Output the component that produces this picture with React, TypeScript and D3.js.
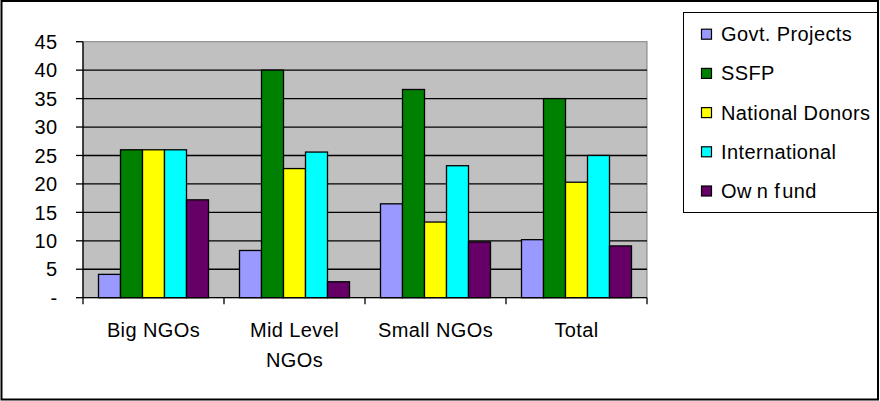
import React from "react";
import * as d3 from "d3";

// Funding sources by NGO size (percent)
const categories = ["Big NGOs", "Mid Level NGOs", "Small NGOs", "Total"];
const categoryLines = [["Big NGOs"], ["Mid Level", "NGOs"], ["Small NGOs"], ["Total"]];
const seriesNames = ["Govt. Projects", "SSFP", "National Donors", "International", "Own fund"];
const seriesColors = ["#9999FF", "#008000", "#FFFF00", "#00FFFF", "#660066"];

const govtProjects = [4.1, 8.3, 16.5, 10.2];
const ssfp = [26, 40, 36.6, 35];
const nationalDonors = [26, 22.7, 13.3, 20.3];
const international = [26, 25.6, 23.2, 25];
const ownFund = [17.2, 2.8, 9.8, 9.1];
const seriesValues = [govtProjects, ssfp, nationalDonors, international, ownFund];

const yTicks = [0, 5, 10, 15, 20, 25, 30, 35, 40, 45];
const yTickLabel = (v: number) => (v === 0 ? "-" : String(v));

const W = 880;
const H = 401;
const FONT = "'Liberation Sans', Arial, sans-serif";
const FS = 20;
const LS = 0.4;

export default function App() {
  const plot = { left: 83, right: 647, top: 41.7, bottom: 297.7 };

  const x = d3.scaleBand<string>().domain(categories).range([plot.left, plot.right]).padding(0);
  const xInner = d3
    .scaleBand<string>()
    .domain(seriesNames)
    .range([15.5, x.bandwidth() - 15.5])
    .padding(0);
  const y = d3.scaleLinear().domain([0, 45]).range([plot.bottom, plot.top]);

  const legend = { x: 683.5, y: 12.5, w: 194.5, h: 200, rowY0: 34, rowStep: 39.2 };

  return (
    <svg
      width={W}
      height={H}
      style={{ position: "absolute", left: 0, top: 0, display: "block", background: "#fff" }}
      fontFamily={FONT}
    >
      {/* plot background */}
      <rect
        x={plot.left}
        y={plot.top}
        width={plot.right - plot.left}
        height={plot.bottom - plot.top}
        fill="#C0C0C0"
        stroke="#808080"
        strokeWidth={1}
      />

      {/* gridlines */}
      {yTicks.slice(1, -1).map((t) => (
        <line
          key={`g${t}`}
          x1={plot.left}
          x2={plot.right}
          y1={y(t)}
          y2={y(t)}
          stroke="#000"
          strokeWidth={1.3}
        />
      ))}

      {/* bars */}
      {categories.map((c, ci) =>
        seriesNames.map((s, si) => {
          const v = seriesValues[si][ci];
          const bx = (x(c) as number) + (xInner(s) as number);
          return (
            <rect
              key={`${c}-${s}`}
              x={bx}
              y={y(v)}
              width={xInner.bandwidth()}
              height={y(0) - y(v)}
              fill={seriesColors[si]}
              stroke="#000"
              strokeWidth={1.3}
            />
          );
        })
      )}

      {/* y axis */}
      <line x1={plot.left} x2={plot.left} y1={plot.top} y2={plot.bottom} stroke="#000" strokeWidth={1.3} />
      {yTicks.map((t) => (
        <g key={`yt${t}`}>
          <line x1={plot.left - 7} x2={plot.left} y1={y(t)} y2={y(t)} stroke="#000" strokeWidth={1.3} />
          <text
            x={57.5}
            y={y(t)}
            dy="0.36em"
            textAnchor="end"
            fontSize={FS}
            letterSpacing={LS}
            fill="#000"
          >
            {yTickLabel(t)}
          </text>
        </g>
      ))}

      {/* x axis */}
      <line x1={plot.left} x2={plot.right} y1={plot.bottom} y2={plot.bottom} stroke="#000" strokeWidth={1.3} />
      {[...categories.map((c) => x(c) as number), plot.right].map((tx, i) => (
        <line key={`xt${i}`} x1={tx} x2={tx} y1={plot.bottom} y2={plot.bottom + 6.5} stroke="#000" strokeWidth={1.3} />
      ))}
      {categories.map((c, ci) => (
        <text
          key={`xl${c}`}
          x={(x(c) as number) + x.bandwidth() / 2}
          y={337}
          textAnchor="middle"
          fontSize={FS}
          letterSpacing={LS}
          fill="#000"
        >
          {categoryLines[ci].map((line, li) => (
            <tspan key={li} x={(x(c) as number) + x.bandwidth() / 2} dy={li === 0 ? 0 : 30}>
              {line}
            </tspan>
          ))}
        </text>
      ))}

      {/* legend */}
      <rect x={legend.x} y={legend.y} width={legend.w} height={legend.h} fill="#fff" stroke="#000" strokeWidth={1} />
      {seriesNames.map((s, si) => {
        const cy = legend.rowY0 + si * legend.rowStep;
        return (
          <g key={`lg${s}`}>
            <rect x={701.5} y={cy - 4.8} width={10} height={10} fill={seriesColors[si]} stroke="#000" strokeWidth={1.2} />
            <text x={721} y={cy} dy="0.36em" fontSize={FS} letterSpacing={LS} fill="#000">
              {s === "Own fund" ? (
                <>
                  <tspan>Ow</tspan>
                  <tspan dx={5}>n f</tspan>
                  <tspan dx={2}>und</tspan>
                </>
              ) : (
                s
              )}
            </text>
          </g>
        );
      })}

      {/* chart frame */}
      <rect x={1.5} y={1} width={876.5} height={398.5} fill="none" stroke="#000" strokeWidth={2} />
    </svg>
  );
}
